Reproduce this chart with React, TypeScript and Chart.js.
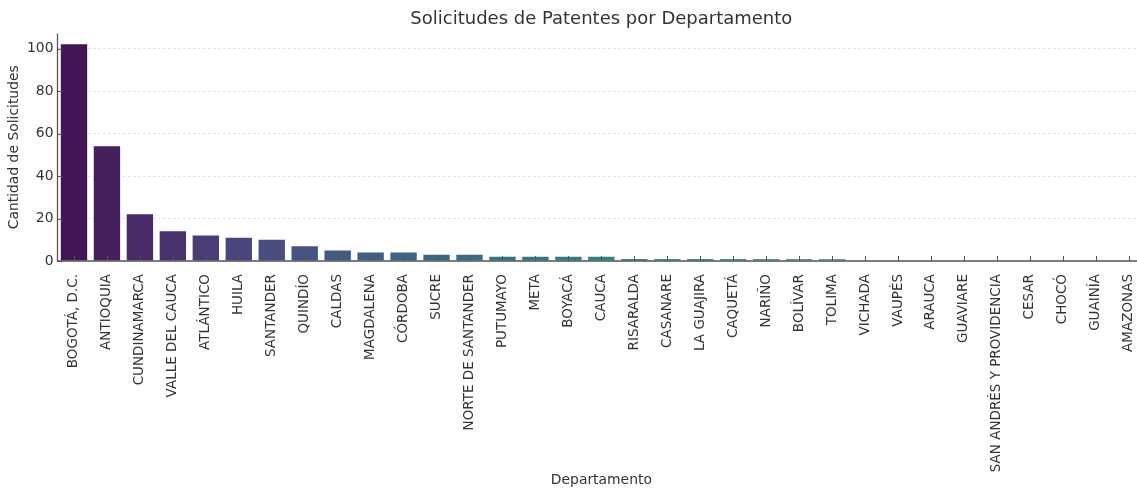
import React, { useEffect, useRef } from "react";
import { Chart, registerables } from "chart.js";

Chart.register(...registerables);

const departamentos = [
  "BOGOTÁ, D.C.", "ANTIOQUIA", "CUNDINAMARCA", "VALLE DEL CAUCA", "ATLÁNTICO",
  "HUILA", "SANTANDER", "QUINDÍO", "CALDAS", "MAGDALENA", "CÓRDOBA", "SUCRE",
  "NORTE DE SANTANDER", "PUTUMAYO", "META", "BOYACÁ", "CAUCA", "RISARALDA",
  "CASANARE", "LA GUAJIRA", "CAQUETÁ", "NARIÑO", "BOLÍVAR", "TOLIMA", "VICHADA",
  "VAUPÉS", "ARAUCA", "GUAVIARE", "SAN ANDRÉS Y PROVIDENCIA", "CESAR", "CHOCÓ",
  "GUAINÍA", "AMAZONAS",
];

const solicitudes = [
  102, 54, 22, 14, 12, 11, 10, 7, 5, 4, 4, 3, 3, 2, 2, 2, 2,
  1, 1, 1, 1, 1, 1, 1,
  0, 0, 0, 0, 0, 0, 0, 0, 0,
];

const yTickValues = [0, 20, 40, 60, 80, 100];
const yMax = 107.1;

const titulo = "Solicitudes de Patentes por Departamento";
const tituloX = "Departamento";
const tituloY = "Cantidad de Solicitudes";

const FONT = "DejaVu Sans";
const TEXT = "#333333";
const SPINE = "#555555";

const VIRIDIS = [
  "#440154", "#482475", "#414487", "#355f8d", "#2a788e", "#21918c",
  "#22a884", "#44bf70", "#7ad151", "#bddf26", "#fde725",
];

function hexToRgb(h: string): number[] {
  return [1, 3, 5].map((i) => parseInt(h.slice(i, i + 2), 16) / 255);
}

function viridis(t: number): number[] {
  const s = Math.max(0, Math.min(1, t)) * 10;
  const i = Math.min(9, Math.floor(s));
  const f = s - i;
  const a = hexToRgb(VIRIDIS[i]);
  const b = hexToRgb(VIRIDIS[i + 1]);
  return a.map((v, k) => v + (b[k] - v) * f);
}

function desaturate(rgb: number[], p: number): number[] {
  const [r, g, b] = rgb;
  const max = Math.max(r, g, b);
  const min = Math.min(r, g, b);
  const l = (max + min) / 2;
  let h = 0;
  let s = 0;
  if (max !== min) {
    const d = max - min;
    s = l > 0.5 ? d / (2 - max - min) : d / (max + min);
    if (max === r) h = ((g - b) / d + (g < b ? 6 : 0)) / 6;
    else if (max === g) h = ((b - r) / d + 2) / 6;
    else h = ((r - g) / d + 4) / 6;
  }
  s *= p;
  if (s === 0) return [l, l, l];
  const q = l < 0.5 ? l * (1 + s) : l + s - l * s;
  const pp = 2 * l - q;
  const hue = (t: number) => {
    if (t < 0) t += 1;
    if (t > 1) t -= 1;
    if (t < 1 / 6) return pp + (q - pp) * 6 * t;
    if (t < 1 / 2) return q;
    if (t < 2 / 3) return pp + (q - pp) * (2 / 3 - t) * 6;
    return pp;
  };
  return [hue(h + 1 / 3), hue(h), hue(h - 1 / 3)];
}

function toCss(rgb: number[]): string {
  return `rgb(${rgb.map((v) => Math.round(v * 255)).join(",")})`;
}

const n = departamentos.length;
const barColors = departamentos.map((_, i) =>
  toCss(desaturate(viridis((i + 1) / (n + 1)), 0.75))
);

const axesPlugin = {
  id: "mplAxes",
  afterDatasetsDraw(chart: any) {
    const { ctx, chartArea, scales } = chart;
    const x = scales.x;
    const y = scales.y;
    ctx.save();
    ctx.strokeStyle = SPINE;
    ctx.lineWidth = 1;
    for (let i = 0; i < x.ticks.length; i++) {
      const px = Math.round(x.getPixelForTick(i)) + 0.5;
      ctx.beginPath();
      ctx.moveTo(px, chartArea.bottom);
      ctx.lineTo(px, chartArea.bottom - 5);
      ctx.stroke();
    }
    for (const t of y.ticks) {
      const py = Math.round(y.getPixelForValue(t.value)) + 0.5;
      ctx.beginPath();
      ctx.moveTo(chartArea.left, py);
      ctx.lineTo(chartArea.left + 5, py);
      ctx.stroke();
    }
    ctx.lineWidth = 1.3;
    ctx.beginPath();
    ctx.moveTo(chartArea.left, chartArea.top);
    ctx.lineTo(chartArea.left, chartArea.bottom);
    ctx.lineTo(chartArea.right + 10, chartArea.bottom);
    ctx.stroke();
    ctx.restore();
  },
};

export default function App() {
  const ref = useRef<HTMLCanvasElement | null>(null);

  useEffect(() => {
    if (!ref.current) return;
    const chart = new Chart(ref.current, {
      type: "bar",
      data: {
        labels: departamentos,
        datasets: [
          {
            data: solicitudes,
            backgroundColor: barColors,
            borderWidth: 0,
            barPercentage: 0.8,
            categoryPercentage: 1,
          },
        ],
      },
      plugins: [axesPlugin],
      options: {
        responsive: false,
        animation: false,
        layout: { padding: { left: 0, right: 3.5, top: 0, bottom: 0 } },
        plugins: {
          legend: { display: false },
          tooltip: { enabled: false },
          title: {
            display: true,
            text: titulo,
            fullSize: false,
            color: TEXT,
            font: { family: FONT, size: 18, weight: "normal" },
            padding: { top: 8.2, bottom: 3.7 },
          },
        },
        scales: {
          x: {
            type: "category",
            offset: true,
            grid: { display: false },
            border: { display: false },
            ticks: {
              autoSkip: false,
              maxRotation: 90,
              minRotation: 90,
              padding: 5,
              color: TEXT,
              font: { family: FONT, size: 13.5 },
            },
            title: {
              display: true,
              text: tituloX,
              color: TEXT,
              font: { family: FONT, size: 13.9 },
              padding: { top: 0, bottom: 2 },
            },
            afterFit: (s: any) => {
              s.height = 230;
            },
          },
          y: {
            min: 0,
            max: yMax,
            grid: {
              display: true,
              drawTicks: false,
              color: "rgba(0,0,0,0.16)",
              lineWidth: 0.8,
            },
            border: { display: false, dash: [2.5, 2.5] },
            ticks: {
              stepSize: 20,
              padding: 4,
              color: TEXT,
              font: { family: FONT, size: 13.9 },
            },
            title: {
              display: true,
              text: tituloY,
              color: TEXT,
              font: { family: FONT, size: 13.9 },
              padding: { top: 6, bottom: 0 },
            },
            afterBuildTicks: (s: any) => {
              s.ticks = yTickValues.map((v) => ({ value: v }));
            },
            afterFit: (s: any) => {
              s.width = 57.5;
            },
          },
        },
      } as any,
    });
    return () => chart.destroy();
  }, []);

  return (
    <div
      style={{
        position: "absolute",
        left: 0,
        top: 0,
        width: 1137,
        height: 491,
        overflow: "hidden",
        background: "#fff",
      }}
    >
      <canvas ref={ref} width={1150} height={491} style={{ display: "block" }} />
    </div>
  );
}
